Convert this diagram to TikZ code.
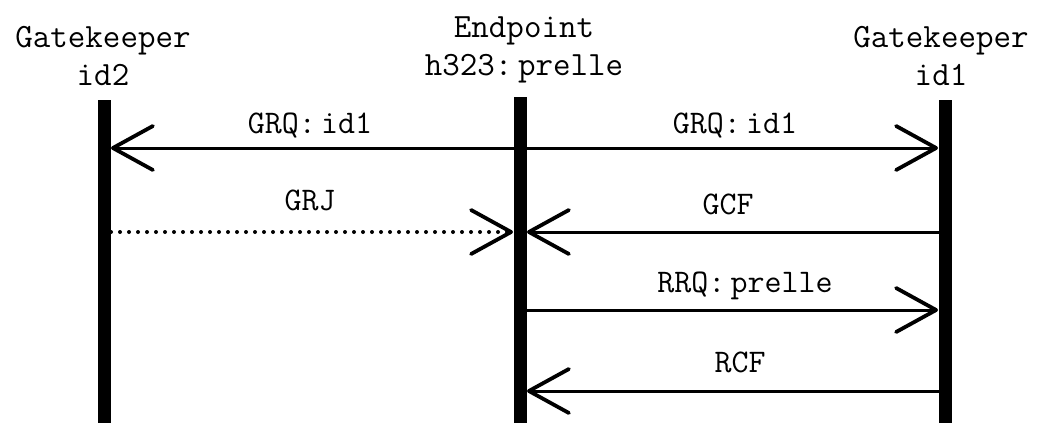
\documentclass[tikz,border=0pt]{standalone}
\usetikzlibrary{arrows.meta}
\begin{document}
\begin{tikzpicture}[x=1pt,y=-1pt,
  lifeline/.style={line width=13pt,line cap=butt},
  msg/.style={line width=3pt,-{Straight Barb[length=40pt,width=44pt,line width=3.8pt,round]}},
  reply/.style={msg,line width=4pt,dash pattern=on 0pt off 9pt,line cap=round},
  head/.style={font=\fontsize{34}{38}\selectfont\ttfamily,align=center,inner sep=0pt},
  lbl/.style={font=\fontsize{33}{36}\selectfont\ttfamily,inner sep=0pt}]
\useasboundingbox (0,0) rectangle (1039,423);
% participants
\node[head] (gk2) at (103,56) {Gatekeeper\\id2};
\node[head] (ep)  at (524,50) {Endpoint\\h323:\,prelle};
\node[head] (gk1) at (941,56) {Gatekeeper\\id1};
% lifelines
\coordinate (L0) at (104,100); \coordinate (L9) at (104,423);
\coordinate (C0) at (520,97);  \coordinate (C9) at (520,423);
\coordinate (R0) at (945,100); \coordinate (R9) at (945,423);
\draw[lifeline] (L0) -- (L9);
\draw[lifeline] (C0) -- (C9);
\draw[lifeline] (R0) -- (R9);
% message end points on the lifelines
\coordinate (m1l) at (111,148); \coordinate (m1c) at (520,148); \coordinate (m1r) at (938,148);
\coordinate (m2l) at (111,232); \coordinate (m2cl) at (513,232); \coordinate (m2cr) at (527,232); \coordinate (m2r) at (945,232);
\coordinate (m3c) at (520,310); \coordinate (m3r) at (938,310);
\coordinate (m4c) at (527,391); \coordinate (m4r) at (945,391);
% messages
\draw[msg] (m1c) -- (m1l);
\draw[msg] (m1c) -- (m1r);
\draw[reply] (m2l) -- (m2cl);
\draw[msg] (m2r) -- (m2cr);
\draw[msg] (m3c) -- (m3r);
\draw[msg] (m4r) -- (m4c);
% labels
\node[lbl] (t1) at (310,126) {GRQ:\,id1};
\node[lbl] (t2) at (735,126) {GRQ:\,id1};
\node[lbl] (t3) at (310,200) {GRJ};
\node[lbl] (t4) at (728,204) {GCF};
\node[lbl] (t5) at (745,286) {RRQ:\,prelle};
\node[lbl] (t6) at (740,362) {RCF};
\end{tikzpicture}
\end{document}
